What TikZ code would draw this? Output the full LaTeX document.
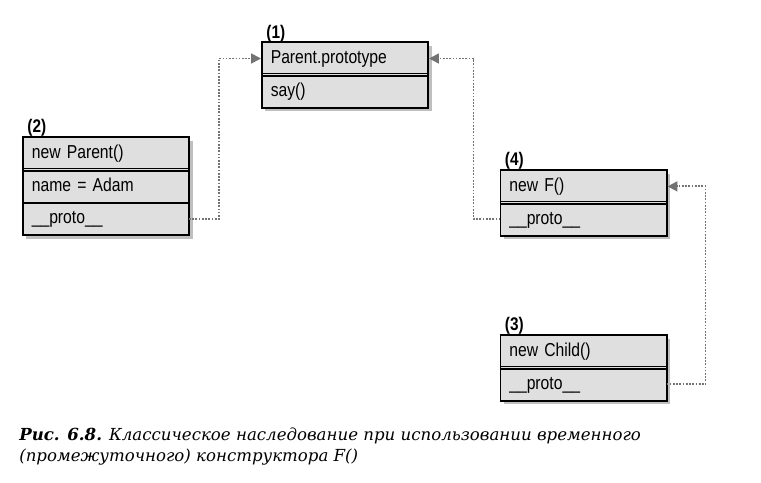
\documentclass[tikz,border=0pt]{standalone}
\usepackage{fontspec}
\usetikzlibrary{positioning,arrows.meta,shadows}
\newfontfamily\boxfont[FakeStretch=0.84]{Liberation Sans}
\newfontfamily\capfont{DejaVu Serif}

\begin{document}
\begin{tikzpicture}[
  x=0.025cm, y=-0.025cm,
  row/.style={draw, line width=1.4pt, fill=gray!25, minimum width=4.15cm, minimum height=0.82cm,
    inner xsep=0.22cm, text width=3.71cm, align=left, outer sep=0pt,
    font=\boxfont\fontsize{13.3}{15}\selectfont, text height=10pt, text depth=3pt,
    drop shadow={shadow xshift=2.5pt, shadow yshift=-2.5pt, fill=black!50, opacity=0.5}},
  tag/.style={font=\boxfont\bfseries\fontsize{13}{14}\selectfont, inner sep=1pt},
  sep/.style={line width=1pt, double=gray!25, double distance=0.8pt,
    shorten <=0.7pt, shorten >=0.7pt},
  link/.style={draw=black!55, line width=1.3pt, dash pattern=on 1.2pt off 1.1pt,
    -{Triangle[length=7pt, width=7pt, fill=black!55]}, shorten >=0.7pt},
  node distance=0pt
]
  \useasboundingbox (0,0) rectangle (761,482);

  % (1) prototype object
  \node[row] (parent) at (345,58.5) {Parent.prototype};
  \node[row, below=of parent] (say) {say()};
  \draw[sep] (parent.south west) -- (parent.south east);
  \node[tag, above right=-1pt and 2pt of parent.north west] (tag1) {(1)};

  % (2) parent instance
  \node[row] (newparent) at (106,153.4) {new Parent()};
  \node[row, below=of newparent] (name) {name = Adam};
  \node[row, below=of name] (pproto) {\_\_proto\_\_};
  \draw[sep] (newparent.south west) -- (newparent.south east);
  \node[tag, above right=-1pt and 2pt of newparent.north west] (tag2) {(2)};

  % (4) temporary constructor instance
  \node[row] (newf) at (583.5,186.4) {new F()};
  \node[row, below=of newf] (fproto) {\_\_proto\_\_};
  \draw[sep] (newf.south west) -- (newf.south east);
  \node[tag, above right=-1pt and 2pt of newf.north west] (tag4) {(4)};

  % (3) child instance
  \node[row] (newchild) at (583.5,351.4) {new Child()};
  \node[row, below=of newchild] (cproto) {\_\_proto\_\_};
  \draw[sep] (newchild.south west) -- (newchild.south east);
  \node[tag, above right=-1pt and 2pt of newchild.north west] (tag3) {(3)};

  \draw[link] (pproto.east) -- ++(30,0) |- (parent.west);
  \draw[link] (fproto.west) -- ++(-27,0) |- (parent.east);
  \draw[link] (cproto.east) -- ++(39,0) |- (newf.east);

  \node[anchor=north west, align=left, inner sep=0pt,
    font=\capfont\itshape\fontsize{11.8}{15}\selectfont] (caption) at (19,428)
    {{\bfseries Рис. 6.8.} Классическое наследование при использовании временного\\
     (промежуточного) конструктора F()};
\end{tikzpicture}
\end{document}
